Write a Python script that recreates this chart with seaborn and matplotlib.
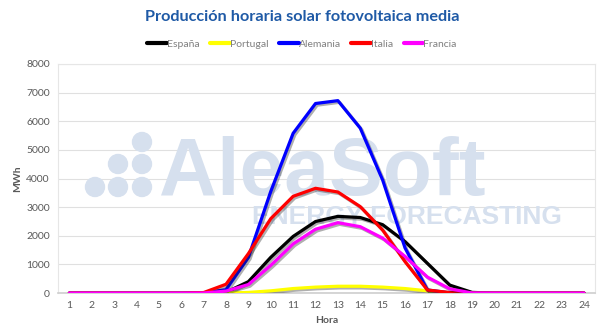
import matplotlib
matplotlib.use("Agg")
import matplotlib.pyplot as plt
import matplotlib.patheffects as pe
from matplotlib.patches import Ellipse
import pandas as pd
import seaborn as sns

horas = list(range(1, 25))
espana = [0, 0, 0, 0, 0, 0, 5, 30, 400, 1250, 1980, 2500, 2680, 2640, 2390, 1800, 1040, 280, 25, 0, 0, 0, 0, 0]
portugal = [0, 0, 0, 0, 0, 0, 0, 5, 25, 80, 160, 210, 240, 240, 210, 160, 80, 10, 0, 0, 0, 0, 0, 0]
alemania = [0, 0, 0, 0, 0, 0, 10, 120, 1250, 3550, 5580, 6620, 6720, 5760, 3950, 1580, 110, 10, 0, 0, 0, 0, 0, 0]
italia = [0, 0, 0, 0, 0, 0, 20, 310, 1380, 2600, 3380, 3660, 3530, 3020, 2200, 1100, 110, 20, 0, 0, 0, 0, 0, 0]
francia = [0, 0, 0, 0, 0, 0, 5, 70, 300, 970, 1720, 2230, 2460, 2320, 1920, 1280, 560, 150, 5, 0, 0, 0, 0, 0]

paises = ["España", "Portugal", "Alemania", "Italia", "Francia"]
colores = ["#000000", "#ffff00", "#0000ff", "#ff0000", "#ff00ff"]
series = [espana, portugal, alemania, italia, francia]

df = pd.concat(
    [pd.DataFrame({"Hora": horas, "MWh": v, "País": p}) for p, v in zip(paises, series)],
    ignore_index=True,
)

sns.set_theme(style="white")
plt.rcParams["font.family"] = ["Lato", "DejaVu Sans"]

W, H = 600, 335
fig = plt.figure(figsize=(6, 3.35), dpi=100)
ax = fig.add_axes([0.097, 0.125, 0.895, 0.684])


def fx(px):
    return px / W


def fy(py):
    return 1 - py / H


# watermark behind the lines
wm = "#d6e0ee"
ax.text(fx(322), fy(195), "AleaSoft", transform=fig.transFigure, fontsize=58,
        fontweight="bold", color=wm, ha="center", va="baseline", zorder=1,
        family="Liberation Sans")
ax.text(fx(407), fy(224), "ENERGY FORECASTING", transform=fig.transFigure, fontsize=19,
        fontweight="bold", color=wm, ha="center", va="baseline", zorder=1,
        family="Liberation Sans")
for x, y in [(142, 142), (118, 164), (142, 164), (95, 187), (118, 187), (142, 187)]:
    ax.add_patch(Ellipse((fx(x), fy(y)), 19 / W, 19 / H, transform=fig.transFigure,
                         color=wm, zorder=1, clip_on=False))

sns.lineplot(data=df, x="Hora", y="MWh", hue="País", palette=colores, hue_order=paises,
             linewidth=2.3, ax=ax, legend=False, zorder=3,
             path_effects=[pe.SimpleLineShadow(offset=(1.2, -1.2), alpha=0.35), pe.Normal()])

ax.set_xlim(0.5, 24.5)
ax.set_ylim(0, 8000)
ax.set_xticks(horas)
ax.set_yticks(range(0, 8001, 1000))
ax.yaxis.grid(True, color="#e0e0e0", linewidth=0.8, zorder=0)
ax.set_axisbelow(True)
ax.tick_params(axis="both", labelsize=7.5, colors="#595959", length=0, pad=6)
for s in ["top", "right", "left"]:
    ax.spines[s].set_color("#e6e6e6")
    ax.spines[s].set_linewidth(0.8)
ax.spines["bottom"].set_color("#d0d0d0")
ax.set_xlabel("Hora", fontsize=7.5, fontweight="bold", color="#595959", labelpad=4)
ax.set_ylabel("MWh", fontsize=7.5, fontweight="bold", color="#595959", labelpad=3)

fig.suptitle("Producción horaria solar fotovoltaica media", x=0.503, y=0.97,
             fontsize=11.7, fontweight="bold", color="#1f5aa6")

handles = [plt.Line2D([0], [0], color=c, linewidth=3.0) for c in colores]
fig.legend(handles, paises, loc="center", bbox_to_anchor=(fx(302), fy(44)), ncol=5,
           frameon=False, fontsize=7.5, labelcolor="#808080", handlelength=1.9,
           handletextpad=0.0, columnspacing=1.0)

fig.savefig("out.png", dpi=100)
